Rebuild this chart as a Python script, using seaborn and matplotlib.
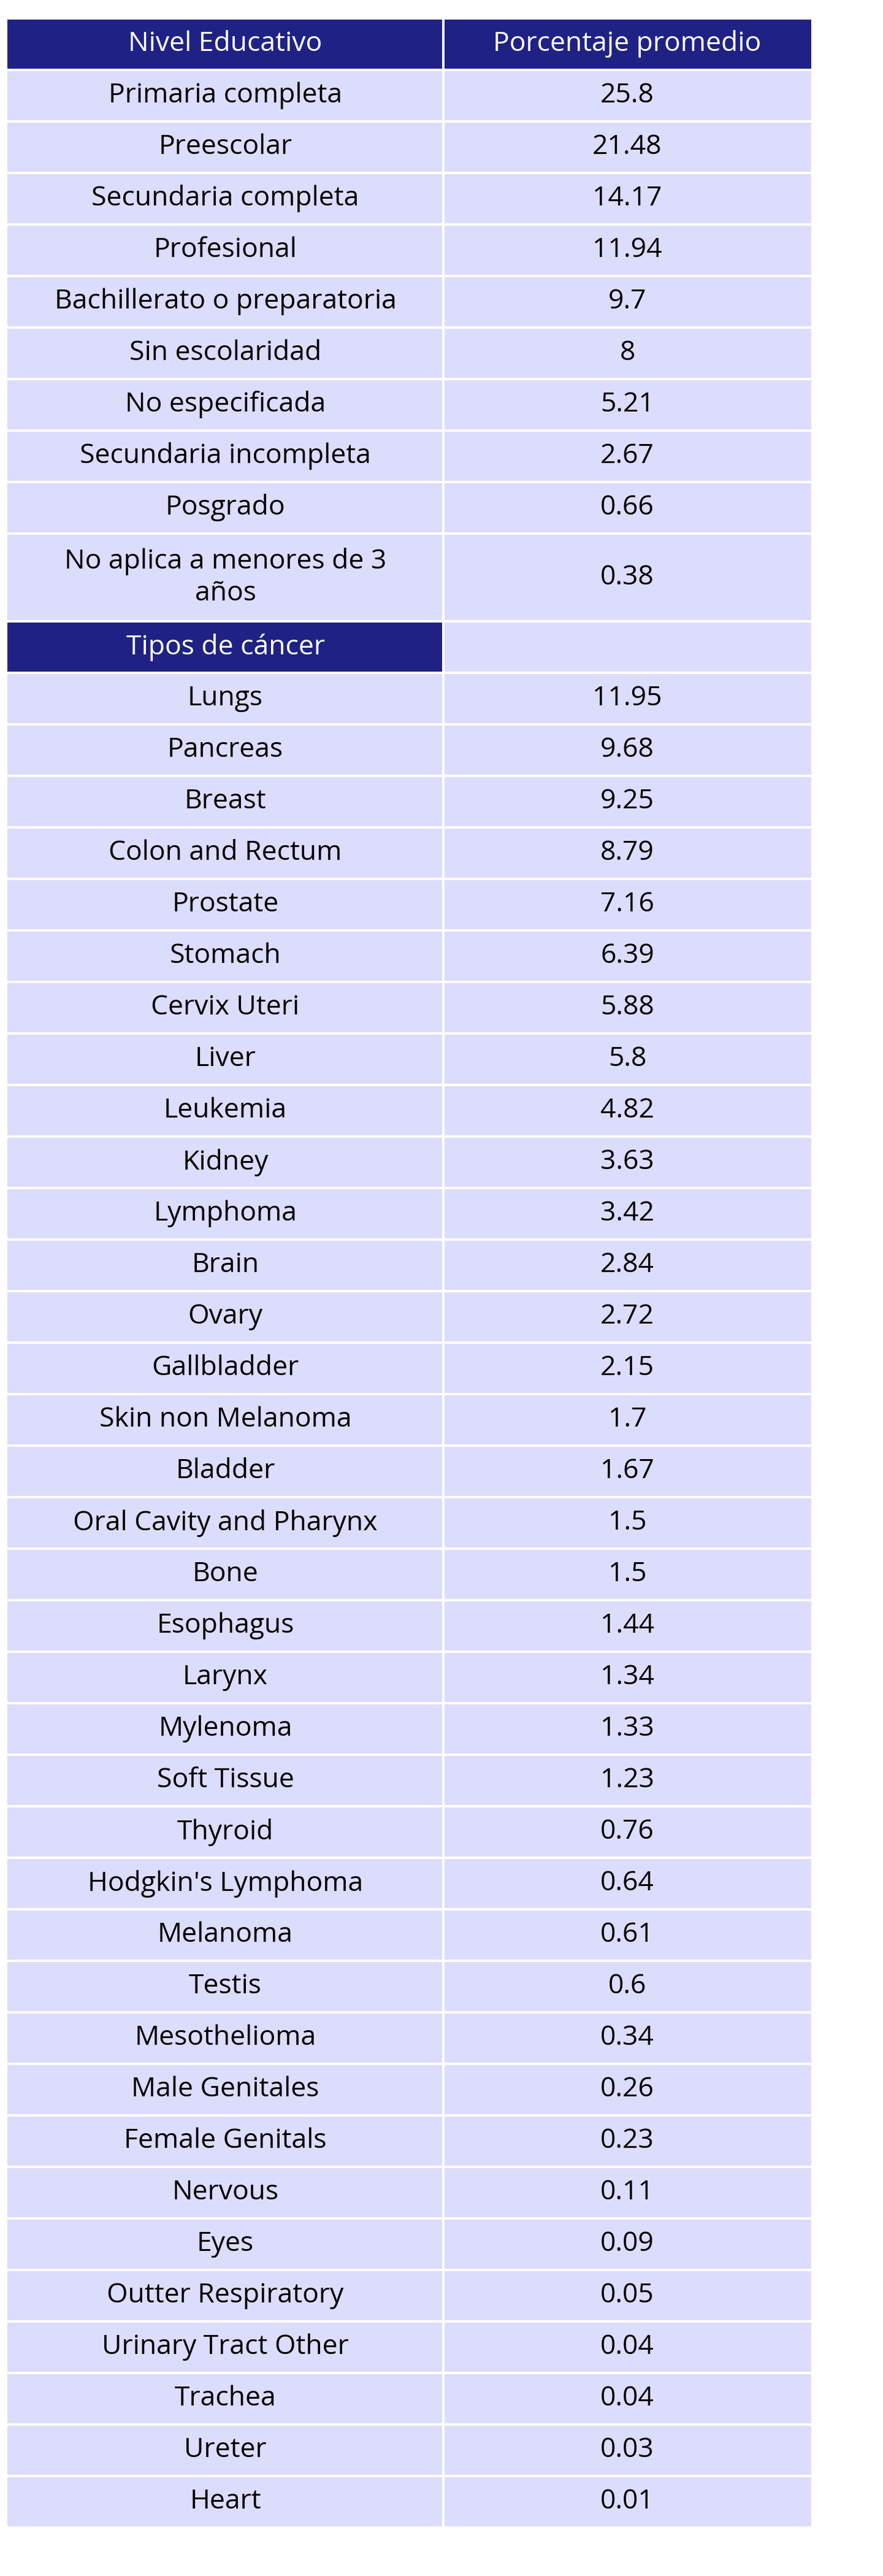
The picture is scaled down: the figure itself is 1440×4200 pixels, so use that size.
import matplotlib
matplotlib.use("Agg")
import matplotlib.pyplot as plt
import seaborn as sns
from matplotlib.patches import Rectangle

sns.set_theme(style="white")
plt.rcParams['font.family'] = ['Open Sans', 'DejaVu Sans']

header_cols = ["Nivel Educativo", "Porcentaje promedio"]
edu_levels = ["Primaria completa", "Preescolar", "Secundaria completa", "Profesional",
              "Bachillerato o preparatoria", "Sin escolaridad", "No especificada",
              "Secundaria incompleta", "Posgrado", "No aplica a menores de 3\naños"]
edu_values = ["25.8", "21.48", "14.17", "11.94", "9.7", "8", "5.21", "2.67", "0.66", "0.38"]
cancer_header = "Tipos de cáncer"
cancer_types = ["Lungs", "Pancreas", "Breast", "Colon and Rectum", "Prostate", "Stomach",
                "Cervix Uteri", "Liver", "Leukemia", "Kidney", "Lymphoma", "Brain", "Ovary",
                "Gallbladder", "Skin non Melanoma", "Bladder", "Oral Cavity and Pharynx", "Bone",
                "Esophagus", "Larynx", "Mylenoma", "Soft Tissue", "Thyroid", "Hodgkin's Lymphoma",
                "Melanoma", "Testis", "Mesothelioma", "Male Genitales", "Female Genitals",
                "Nervous", "Eyes", "Outter Respiratory", "Urinary Tract Other", "Trachea",
                "Ureter", "Heart"]
cancer_values = ["11.95", "9.68", "9.25", "8.79", "7.16", "6.39", "5.88", "5.8", "4.82", "3.63",
                 "3.42", "2.84", "2.72", "2.15", "1.7", "1.67", "1.5", "1.5", "1.44", "1.34",
                 "1.33", "1.23", "0.76", "0.64", "0.61", "0.6", "0.34", "0.26", "0.23", "0.11",
                 "0.09", "0.05", "0.04", "0.04", "0.03", "0.01"]

NAVY = "#1f2284"
LIGHT = "#dcdcfc"

rows = [(header_cols[0], header_cols[1], "hdr", 1)]
for a, b in zip(edu_levels, edu_values):
    rows.append((a, b, "cell", 2 if "\n" in a else 1))
rows.append((cancer_header, "", "sub", 1))
for a, b in zip(cancer_types, cancer_values):
    rows.append((a, b, "cell", 1))

fig = plt.figure(figsize=(14.4, 42), dpi=100)
ax = fig.add_axes([0, 0, 1, 1])
ax.set_xlim(0, 1440)
ax.set_ylim(4200, 0)
ax.axis("off")

x0, xs, x1 = 12, 723, 1323
gap = 4
y = 32
fs = 32
for left, right, kind, size in rows:
    h = 80 if size == 1 else 139
    lc = NAVY if kind in ("hdr", "sub") else LIGHT
    rc = NAVY if kind == "hdr" else LIGHT
    ax.add_patch(Rectangle((x0, y), xs - x0 - gap / 2, h, color=lc, lw=0))
    ax.add_patch(Rectangle((xs + gap / 2, y), x1 - xs - gap / 2, h, color=rc, lw=0))
    tcl = "white" if kind in ("hdr", "sub") else "black"
    tcr = "white" if kind == "hdr" else "black"
    ax.text((x0 + xs) / 2, y + h / 2, left, ha="center", va="center", fontsize=fs,
            color=tcl, linespacing=1.25)
    ax.text((xs + x1) / 2, y + h / 2, right, ha="center", va="center", fontsize=fs, color=tcr)
    y += h + gap

fig.savefig("out.png", dpi=100, facecolor="white")
